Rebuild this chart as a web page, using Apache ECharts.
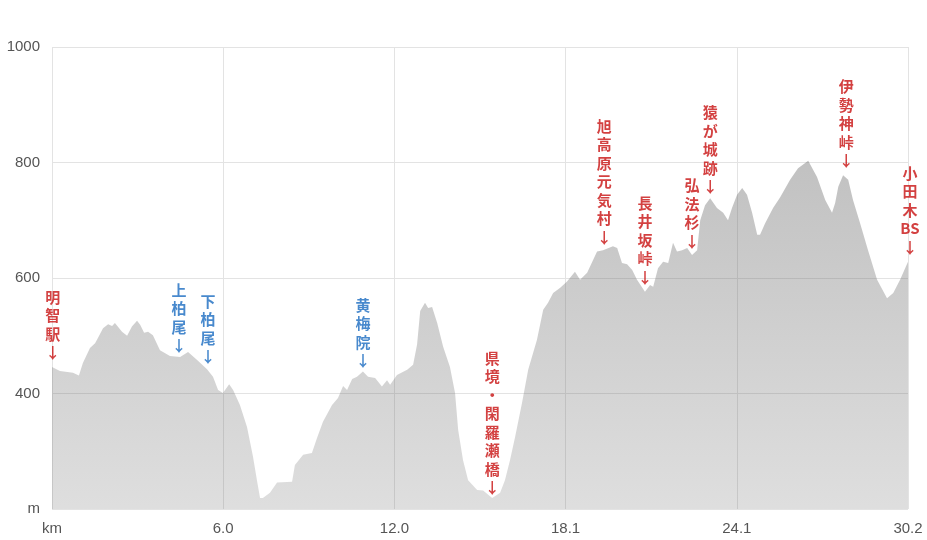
<!DOCTYPE html>
<html>
<head>
<meta charset="utf-8">
<script src="https://cdn.jsdelivr.net/npm/echarts@6/dist/echarts.min.js"></script>
<style>
html,body{margin:0;padding:0;background:#fff;}
#chart{width:927px;height:540px;}
</style>
</head>
<body>
<div id="chart"></div>
<script>
// Distance along route (km)
var distKm = [0,0.28,0.74,0.95,1.09,1.34,1.52,1.62,1.80,1.98,2.12,2.22,2.47,2.65,2.82,3.00,3.11,3.25,3.39,3.56,3.81,4.16,4.52,4.80,5.12,5.47,5.68,5.86,6.03,6.25,6.39,6.63,6.88,7.09,7.23,7.34,7.44,7.69,7.94,8.47,8.57,8.86,9.17,9.35,9.56,9.88,10.09,10.27,10.41,10.59,10.76,10.97,11.15,11.40,11.64,11.82,11.93,12.17,12.53,12.74,12.88,12.99,13.16,13.27,13.41,13.59,13.80,14.04,14.22,14.33,14.50,14.68,15.00,15.21,15.53,15.81,15.98,16.16,16.34,16.58,16.80,17.11,17.33,17.50,17.68,17.93,18.17,18.45,18.63,18.88,19.23,19.44,19.79,19.94,20.11,20.29,20.47,20.64,20.92,21.10,21.21,21.38,21.56,21.74,21.91,22.05,22.23,22.41,22.58,22.76,22.87,23.04,23.22,23.46,23.68,23.85,23.99,24.17,24.35,24.52,24.70,24.88,24.98,25.16,25.44,25.69,26.04,26.32,26.68,26.99,27.28,27.52,27.63,27.74,27.91,28.09,28.26,28.51,28.79,29.11,29.46,29.68,29.92,30.20];
// Elevation (m)
var elevM = [446,439,436,431,453,479,487,496,513,520,517,522,507,500,516,526,519,505,507,501,475,465,463,472,458,442,429,406,401,416,406,380,342,291,250,219,219,228,246,247,276,294,297,323,351,380,392,413,406,425,429,438,429,427,412,423,415,432,441,450,485,543,557,548,550,522,481,446,401,337,285,250,233,232,219,228,250,285,325,383,441,493,545,557,574,583,594,611,597,609,646,648,655,652,626,624,614,597,576,588,585,617,628,626,661,646,648,652,640,648,700,726,738,721,713,700,721,744,756,744,713,675,675,695,721,740,770,790,803,775,735,713,730,758,778,770,735,695,648,597,565,574,597,628];

// X tick labels
var xTickLabels = ['km','6.0','12.0','18.1','24.1','30.2'];
// Y tick labels
var yTickValues = [200,400,600,800,1000];
var yTickLabels = ['m','400','600','800','1000'];

// Place markers
var markerNames = ['明智駅','上柏尾','下柏尾','黄梅院','県境・閑羅瀬橋','旭高原元気村','長井坂峠','弘法杉','猿が城跡','伊勢神峠','小田木BS'];
var markerKm    = [0.03,4.48,5.50,10.97,15.53,19.48,20.92,22.58,23.22,28.02,30.2];
var markerElev  = [455,467,448,441,221,655,586,648,742,787,638];
var markerKind  = ['red','blue','blue','blue','red','red','red','red','red','red','red'];

var kindColor = {red:'#c81212', blue:'#1a6cc0'};

var chart = echarts.init(document.getElementById('chart'));

var profile = distKm.map(function(d,i){return [d, elevM[i]];});
var markers = markerNames.map(function(n,i){
  var parts = n.match(/[A-Za-z]+|./g);
  var lbl = {
    formatter: parts.join('\n') + '\n↓',
    color: kindColor[markerKind[i]]
  };
  if (i === markerNames.length - 1) { lbl.offset = [2, 0]; }
  return { value:[markerKm[i], markerElev[i]], label: lbl };
});

chart.setOption({
  animation:false,
  backgroundColor:'#fff',
  grid:{left:52,right:19,top:47,bottom:31,containLabel:false},
  xAxis:{
    type:'value',min:0,max:30.2,interval:6.04,
    axisLine:{show:false},
    axisTick:{show:false},
    axisLabel:{
      color:'#555',fontSize:15,margin:12,fontFamily:'"Liberation Sans", Arial, sans-serif',
      formatter:function(v){ return xTickLabels[Math.round(v/6.04)]; },
      showMinLabel:true,showMaxLabel:true
    },
    splitLine:{show:true,lineStyle:{color:'#e3e3e3',width:1}}
  },
  yAxis:{
    type:'value',min:200,max:1000,interval:200,
    axisLine:{show:false},
    axisTick:{show:false},
    axisLabel:{
      color:'#555',fontSize:15,margin:12,fontFamily:'"Liberation Sans", Arial, sans-serif',
      formatter:function(v){ var k=yTickValues.indexOf(v); return k>=0?yTickLabels[k]:''; }
    },
    splitLine:{show:true,lineStyle:{color:'#e3e3e3',width:1}}
  },
  series:[
    {
      type:'line',
      data:profile,
      symbol:'none',
      smooth:false,
      lineStyle:{width:0},
      areaStyle:{
        color:{type:'linear',x:0,y:0,x2:0,y2:1,colorStops:[
          {offset:0,color:'rgba(100,100,100,0.57)'},
          {offset:1,color:'rgba(100,100,100,0.3)'}
        ]}
      },
      z:2
    },
    {
      type:'scatter',
      data:markers,
      symbolSize:0,
      silent:true,
      clip:false,
      label:{
        show:true,position:'top',distance:0,
        fontSize:15,fontWeight:'bold',lineHeight:18.5,align:'center',
        fontFamily:'"Noto Sans CJK JP", sans-serif'
      },
      z:5
    }
  ]
});
</script>
</body>
</html>
